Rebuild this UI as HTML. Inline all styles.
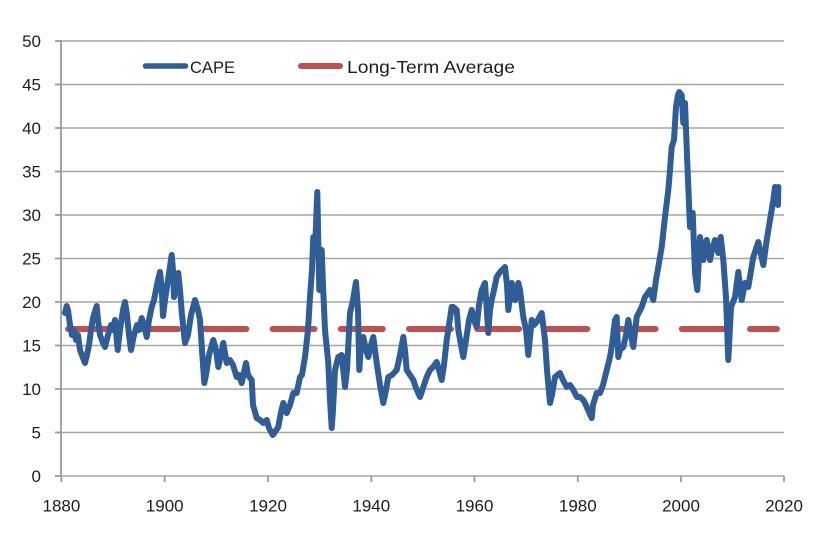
<!DOCTYPE html>
<html>
<head>
<meta charset="utf-8">
<style>
html,body{margin:0;padding:0;background:#fff;}
svg{display:block;}
text{font-family:"Liberation Sans",sans-serif;fill:#1e1e1e;}
</style>
</head>
<body>
<svg width="833" height="537" viewBox="0 0 833 537" xmlns="http://www.w3.org/2000/svg">
<rect width="833" height="537" fill="#fff"/>
<!-- gridlines -->
<g stroke="#a6a6a6" stroke-width="1.6">
<line x1="61" y1="41" x2="784" y2="41"/>
<line x1="61" y1="84.5" x2="784" y2="84.5"/>
<line x1="61" y1="128" x2="784" y2="128"/>
<line x1="61" y1="171.5" x2="784" y2="171.5"/>
<line x1="61" y1="215" x2="784" y2="215"/>
<line x1="61" y1="258.5" x2="784" y2="258.5"/>
<line x1="61" y1="302" x2="784" y2="302"/>
<line x1="61" y1="345.5" x2="784" y2="345.5"/>
<line x1="61" y1="389" x2="784" y2="389"/>
<line x1="61" y1="432.5" x2="784" y2="432.5"/>
<line x1="61" y1="476" x2="784" y2="476"/>
</g>
<!-- axes -->
<g stroke="#9a9a9a" stroke-width="1.8">
<line x1="61" y1="40" x2="61" y2="477"/>
<line x1="55" y1="41" x2="61" y2="41"/>
<line x1="55" y1="84.5" x2="61" y2="84.5"/>
<line x1="55" y1="128" x2="61" y2="128"/>
<line x1="55" y1="171.5" x2="61" y2="171.5"/>
<line x1="55" y1="215" x2="61" y2="215"/>
<line x1="55" y1="258.5" x2="61" y2="258.5"/>
<line x1="55" y1="302" x2="61" y2="302"/>
<line x1="55" y1="345.5" x2="61" y2="345.5"/>
<line x1="55" y1="389" x2="61" y2="389"/>
<line x1="55" y1="432.5" x2="61" y2="432.5"/>
<line x1="55" y1="476" x2="61" y2="476"/>
<line x1="61.4" y1="476" x2="61.4" y2="482"/>
<line x1="164.7" y1="476" x2="164.7" y2="482"/>
<line x1="268" y1="476" x2="268" y2="482"/>
<line x1="371.3" y1="476" x2="371.3" y2="482"/>
<line x1="474.5" y1="476" x2="474.5" y2="482"/>
<line x1="577.8" y1="476" x2="577.8" y2="482"/>
<line x1="681" y1="476" x2="681" y2="482"/>
<line x1="784" y1="476" x2="784" y2="482"/>
</g>
<!-- y labels -->
<g font-size="17" text-anchor="end">
<text x="41" y="47">50</text>
<text x="41" y="90.5">45</text>
<text x="41" y="134">40</text>
<text x="41" y="177.5">35</text>
<text x="41" y="221">30</text>
<text x="41" y="264.5">25</text>
<text x="41" y="308">20</text>
<text x="41" y="351.5">15</text>
<text x="41" y="395">10</text>
<text x="41" y="438.5">5</text>
<text x="41" y="482">0</text>
</g>
<!-- x labels -->
<g font-size="17" text-anchor="middle">
<text x="61.4" y="511.5">1880</text>
<text x="164.7" y="511.5">1900</text>
<text x="268" y="511.5">1920</text>
<text x="371.3" y="511.5">1940</text>
<text x="474.5" y="511.5">1960</text>
<text x="577.8" y="511.5">1980</text>
<text x="681" y="511.5">2000</text>
<text x="784" y="511.5">2020</text>
</g>
<!-- long-term average -->
<line x1="68" y1="329" x2="777" y2="329" stroke="#c0504d" stroke-width="6" stroke-linecap="round" stroke-dasharray="42 26.2"/>
<!-- CAPE -->
<polyline fill="none" stroke="#2e5d98" stroke-width="6" stroke-linejoin="round" stroke-linecap="round" points="
65,313 66.7,306 68,310 70,325 72,335 74,330 76,340 78,335 80,350 83,358 85,363 87,355 89,345 91,330 93,318 96.7,306 98,320 100,335 103,343 105,347 108,335 111,325 113,330 115,320 117.7,350 120,330 123,310 125,302 127,315 129,335 131,350 134,335 137,325 139,330 141.7,318 144,325 146.7,337 149,320 151.7,307 154,300 156,290 158,280 160,272 161.5,285 163,316
165,300 168,280 171.7,255 173,270 174,297 176,285 178.3,273 180,290 182,315 185,343 188,335 191,315 195,300 198,310 200,320 202,350 204.3,383 206,375 209,355 213.3,340 216,350 218.3,367 221,355 223.3,343 226.7,363 230,360 233,365 236.7,377 239,375 241.7,383 244,372 246,363 248,375 251.7,380 253,405 256.7,418 260,420 263.3,423 266.7,420 269,428 272.7,435 275,432 278.3,427 281,412 283.3,403 286.7,413 290,405 293.3,393 296.7,393 300,377 302,375 305,357 308,330 310,297 312,270 313.3,237 315,250 317.3,192 319.3,290 321.7,250 323,285 325,330 328.3,363 330,400 331.7,428 333,410 335,370 338.3,357 341.7,355 345,387 347,370 350,313 353,300 356,282 358,310 359.3,370 361,345 363.3,337 366,350 368.3,357 371,345 373.3,337 376.7,363 380,385 383.3,403 386,390 388.3,377 392,375 396.7,370 400,355 403.3,337 405,350 406.7,370 410,375 413.3,380 416,388 420,397 423,388 426.7,377 430,370 433,367 436.7,362 439,370 441.7,380 444,365 446.7,340 449,325 451.7,307 453.3,307 456.7,310 458.3,330 461,345 463.3,357 466,340 469,320 471.7,310 474,320 476.7,327 479,305 481.7,290 485,283 488.3,333 490,310 491.7,300 494,290 496.7,277 500,272 505,267 507,285 508.3,310 511.7,283 515,300 518.3,283 520,290 523.3,317 526,330 528.3,355 531.7,320 534,325 536.7,322 539,318 541.7,313 545,340 547,370 550,403 552,395 555,377 560,373 563,380 566.7,387 570,385 573.3,390 577,397 580,397 583.3,400 585,403 588,410 591.7,418 593,405 596.7,393 600,393 603,385 605,377 608,365 610,357 612,345 615,320 616.7,317 618.3,357 620,350 623.3,347 626,335 628.3,320 631,335 633.3,347 636.7,317 641.7,307 645,297 650,290 653.3,300 656,280 658.3,267 661.7,247 665,217 668.3,190 670,170 671.7,147 674,140 676,107 678,95 679.3,92 681.7,95 683.3,123 685,103 687.3,163 690,227 692.7,213 695,273 697.3,290 700,237 703.3,260 706.7,240 710,260 712,250 715,240 718.3,253 720.7,237 723.3,260 726,297 728.3,360 731,307 735,297 738.3,272 741.7,300 745,283 748.3,287 753.3,257 758.3,242 763.3,265 766.7,240 770,220 773.3,200 775,187 777,195 778.3,187 778,205"/>
<!-- legend -->
<line x1="145.5" y1="66" x2="185.5" y2="66" stroke="#2e5d98" stroke-width="5.5" stroke-linecap="round"/>
<text x="190" y="73" font-size="17" textLength="45" lengthAdjust="spacingAndGlyphs">CAPE</text>
<line x1="301" y1="66" x2="340" y2="66" stroke="#c0504d" stroke-width="6" stroke-linecap="round"/>
<text x="347" y="73" font-size="17.5" textLength="168" lengthAdjust="spacingAndGlyphs">Long-Term Average</text>
</svg>
</body>
</html>
